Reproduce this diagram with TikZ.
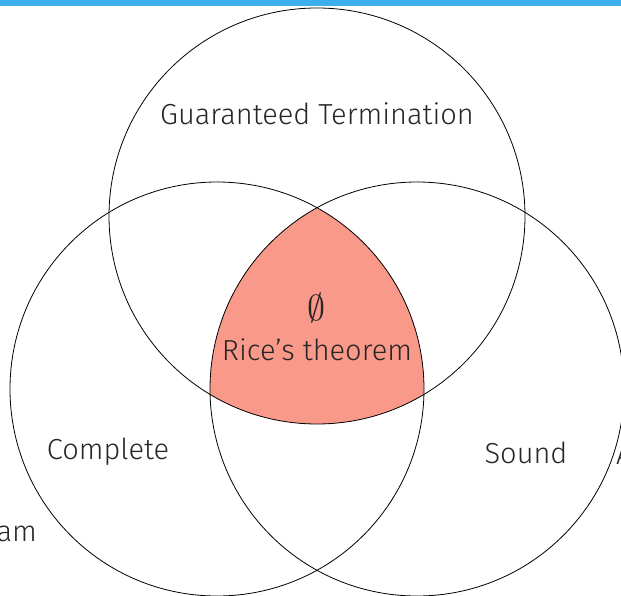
\documentclass[tikz,border=0pt]{standalone}
\usepackage{graphicx}
\usepackage{fontspec}
\setmainfont{Fira Sans Light}
\definecolor{barblue}{RGB}{61,176,235}
\definecolor{ricered}{RGB}{249,153,137}
\begin{document}
\begin{tikzpicture}[x=1pt,y=-1pt,
  venn/.style={draw=black,line width=0.8pt},
  lbl/.style={font=\fontsize{29}{33}\selectfont,text=black!85,inner sep=0pt}]
\useasboundingbox (0,0) rectangle (621,596);
\clip (0,0) rectangle (621,596);
\fill[barblue] (0,0) rectangle (621,6);
\coordinate (ct) at (317,216);
\coordinate (cl) at (217,389);
\coordinate (cr) at (417,389);
\begin{scope}
  \clip (ct) circle[radius=208];
  \clip (cl) circle[radius=207];
  \fill[ricered] (cr) circle[radius=207];
\end{scope}
\draw[venn] (ct) circle[radius=208];
\draw[venn] (cl) circle[radius=207];
\draw[venn] (cr) circle[radius=207];
\node[lbl] (gt) at (317,114) {Guaranteed Termination};
\node[lbl] (empty) at (317,308) {\scalebox{1.45}{$\emptyset$}};
\node[lbl] (rice) at (317,350) {Rice’s theorem};
\node[lbl] (comp) at (108,452) {Complete};
\node[lbl] (sound) at (526,453) {Sound};
\node[lbl,anchor=east] (am) at (37,534) {am};
\node[lbl,anchor=west] (aa) at (616,455) {A};
\end{tikzpicture}
\end{document}
